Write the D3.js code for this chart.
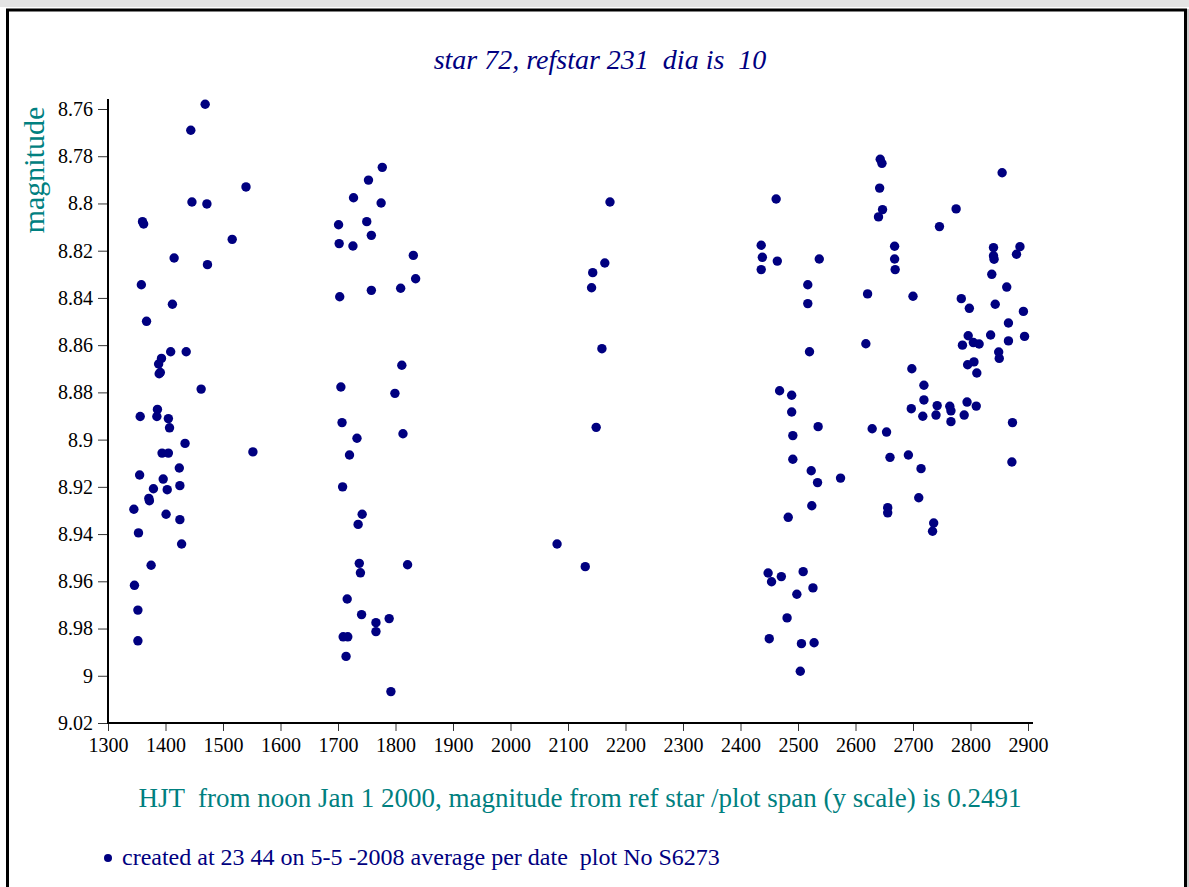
<!DOCTYPE html>
<html>
<head>
<meta charset="utf-8">
<script src="https://cdn.jsdelivr.net/npm/d3@7"></script>
<style>
  body { margin: 0; background: #fff; }
  svg text { font-family: "Liberation Serif", "Times New Roman", serif; white-space: pre; }
</style>
</head>
<body>
<svg id="base" width="1189" height="887"></svg>
<script>
// HJT (days from noon Jan 1 2000) and magnitude, one per date
const hjt = [
  1469, 1444, 1540, 1446, 1472, 1360, 1362, 1516, 1415, 1473, 1358, 1412, 1367, 1409, 1436,
  1393, 1388, 1389, 1391, 1462, 1356, 1386, 1385, 1405, 1407, 1434, 1394, 1405, 1424, 1355,
  1396, 1379, 1403, 1425, 1371, 1372, 1345, 1401, 1425, 1353, 1428, 1375, 1346, 1352, 1352,
  1552,
  1777, 1753, 1727, 1775, 1701, 1750, 1758, 1702, 1726, 1831, 1835, 1758, 1809, 1703, 1811,
  1705, 1799, 1707, 1813, 1733, 1720, 1708, 1742, 1735, 1737, 1739, 1821, 1716, 1741, 1766,
  1789, 1766, 1709, 1717, 1714, 1792,
  2081, 2130, 2149, 2141, 2143, 2164, 2173, 2159,
  2436, 2438, 2436, 2464, 2462, 2537, 2517, 2517, 2520, 2468, 2489, 2489, 2491, 2535, 2491,
  2523, 2534, 2574, 2524, 2483, 2448, 2454, 2471, 2509, 2526, 2498, 2481, 2450, 2506, 2528,
  2504,
  2618, 2621, 2629, 2643, 2646, 2642, 2647, 2640, 2668, 2668, 2669, 2654, 2660, 2656, 2656,
  2700, 2698, 2719, 2719, 2697, 2717, 2692, 2714, 2710, 2736, 2734, 2742, 2740, 2764, 2766,
  2766, 2746, 2775, 2784, 2798, 2794, 2789, 2810, 2796, 2786, 2805, 2815, 2795, 2806, 2811,
  2835, 2837, 2840, 2840, 2841, 2843, 2866, 2863, 2866, 2849, 2850, 2855, 2886, 2880, 2892,
  2894, 2873, 2872
];
const mag = [
  8.758, 8.769, 8.793, 8.7994, 8.8002, 8.8077, 8.8087, 8.8152, 8.8231, 8.8259, 8.8344, 8.8427, 8.8499, 8.8628, 8.8628,
  8.8656, 8.868, 8.8721, 8.8716, 8.8786, 8.8902, 8.8872, 8.8902, 8.8911, 8.895, 8.9016, 8.9057, 8.9057, 8.912, 8.915,
  8.9167, 8.9208, 8.9212, 8.9195, 8.9249, 8.9259, 8.9295, 8.9316, 8.9339, 8.9395, 8.9442, 8.9532, 8.9617, 8.9722, 8.9852,
  8.9052,
  8.7847, 8.7901, 8.7976, 8.7998, 8.809, 8.8077, 8.8135, 8.817, 8.818, 8.822, 8.8319, 8.8368, 8.8359, 8.8395, 8.8685,
  8.8777, 8.8804, 8.8928, 8.8975, 8.8994, 8.9065, 8.92, 8.9316, 8.9359, 8.9524, 8.9564, 8.953, 8.9675, 8.9741, 8.9775,
  8.9758, 8.9813, 8.9835, 8.9835, 8.9918, 9.0067,
  8.9442, 8.9538, 8.8948, 8.8357, 8.8293, 8.8252, 8.7994, 8.8615,
  8.8177, 8.8228, 8.828, 8.8244, 8.7981, 8.8235, 8.8344, 8.8424, 8.8628, 8.8793, 8.8812, 8.8883, 8.8983, 8.8945, 8.9083,
  8.9132, 8.9182, 8.9163, 8.928, 8.9329, 8.9565, 8.9602, 8.958, 8.9559, 8.9628, 8.9655, 8.9755, 8.9843, 8.9864, 8.986,
  8.9981,
  8.8594, 8.8383, 8.8954, 8.7813, 8.783, 8.7935, 8.8026, 8.8057, 8.8181, 8.8235, 8.828, 8.8968, 8.9075, 8.9288, 8.931,
  8.8393, 8.87, 8.877, 8.8832, 8.8869, 8.8901, 8.9065, 8.9123, 8.9246, 8.9353, 8.9388, 8.8856, 8.8896, 8.8859, 8.8878,
  8.8924, 8.8098, 8.8023, 8.8403, 8.8444, 8.8841, 8.8896, 8.8858, 8.856, 8.86, 8.8589, 8.8595, 8.8683, 8.8671, 8.8718,
  8.8557, 8.83, 8.8187, 8.8222, 8.8236, 8.8427, 8.8506, 8.8354, 8.8582, 8.8629, 8.8656, 8.787, 8.8183, 8.8215, 8.8457,
  8.8563, 8.8928, 8.9095
];
const xTicks = d3.range(1300, 2901, 100);
const yTicks = [8.76, 8.78, 8.8, 8.82, 8.84, 8.86, 8.88, 8.9, 8.92, 8.94, 8.96, 8.98, 9, 9.02];

const titleText = "star 72, refstar 231  dia is  10";
const yTitle = "magnitude";
const xTitle = "HJT  from noon Jan 1 2000, magnitude from ref star /plot span (y scale) is 0.2491";
const footText = "created at 23 44 on 5-5 -2008 average per date  plot No S6273";

const navy = "#000080";
const teal = "#008080";

const svg = d3.select("#base");

// page frame
svg.append("rect").attr("x", 0).attr("y", 0).attr("width", 1189).attr("height", 7).attr("fill", "#e4e4e4");
svg.append("path")
  .attr("d", "M7.5,900 V10 H1185.5 V900")
  .attr("fill", "none").attr("stroke", "#000").attr("stroke-width", 3);
svg.append("line").attr("x1", 1188).attr("x2", 1188).attr("y1", 9).attr("y2", 887)
  .attr("stroke", "#999").attr("stroke-width", 1);

const x = d3.scaleLinear().domain([1300, 2900]).range([108, 1028]);
const y = d3.scaleLinear().domain([8.76, 9.02]).range([109, 723]);

// axes
const xAxis = svg.append("g")
  .attr("transform", "translate(0,723)")
  .call(d3.axisBottom(x).tickValues(xTicks).tickSize(8).tickSizeOuter(0).tickFormat(d3.format("d")));
xAxis.select(".domain").remove();
xAxis.selectAll(".tick line").attr("stroke", "#333");
xAxis.selectAll(".tick text")
  .attr("font-size", 20).attr("fill", "#000").attr("dy", "0.9em")
  .style("font-family", "Liberation Serif");

const yAxis = svg.append("g")
  .attr("transform", "translate(108,0)")
  .call(d3.axisLeft(y).tickValues(yTicks).tickSize(10).tickSizeOuter(0).tickFormat(d => String(d)));
yAxis.select(".domain").remove();
yAxis.selectAll(".tick line").attr("stroke", "#333");
yAxis.selectAll(".tick text")
  .attr("font-size", 20).attr("fill", "#000").attr("x", -15)
  .style("font-family", "Liberation Serif");

svg.append("line").attr("x1", 108).attr("x2", 108).attr("y1", 99).attr("y2", 724)
  .attr("stroke", "#000").attr("stroke-width", 2);
svg.append("line").attr("x1", 107).attr("x2", 1033).attr("y1", 723).attr("y2", 723)
  .attr("stroke", "#000").attr("stroke-width", 2);

// points
svg.append("g")
  .selectAll("circle")
  .data(hjt)
  .enter()
  .append("circle")
  .attr("cx", d => x(d))
  .attr("cy", (d, i) => y(mag[i]))
  .attr("r", 4.7)
  .attr("fill", navy);

// titles
svg.append("text")
  .attr("x", 600).attr("y", 69)
  .attr("text-anchor", "middle")
  .attr("font-size", 28).attr("font-style", "italic")
  .attr("fill", navy)
  .text(titleText);

svg.append("text")
  .attr("transform", "translate(44,170) rotate(-90)")
  .attr("text-anchor", "middle")
  .attr("font-size", 30)
  .attr("fill", teal)
  .text(yTitle);

svg.append("text")
  .attr("x", 580).attr("y", 807)
  .attr("text-anchor", "middle")
  .attr("font-size", 27)
  .attr("fill", teal)
  .text(xTitle);

// footer note
svg.append("circle").attr("cx", 108).attr("cy", 858).attr("r", 4).attr("fill", navy);
svg.append("text")
  .attr("x", 122).attr("y", 865)
  .attr("font-size", 24)
  .attr("fill", navy)
  .text(footText);
</script>
</body>
</html>
